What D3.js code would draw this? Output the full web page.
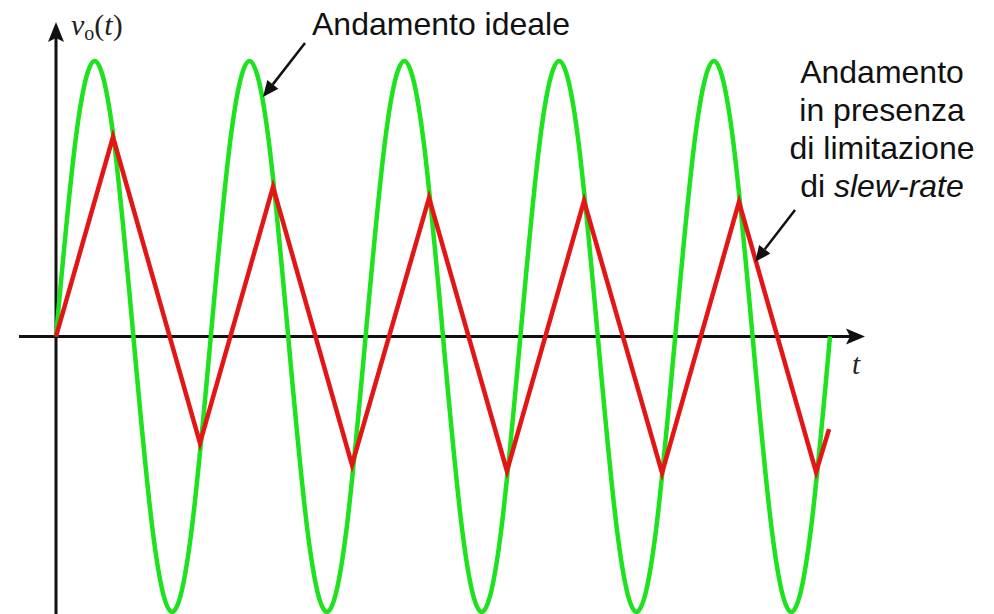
<!DOCTYPE html>
<html>
<head>
<meta charset="utf-8">
<script src="https://cdn.jsdelivr.net/npm/d3@7"></script>
<style>
  html, body { margin: 0; padding: 0; background: #fff; }
  svg { display: block; }
</style>
</head>
<body>
<svg id="chart" width="994" height="614"></svg>
<script>
// Ideal output (sine), sampled every 1/8 of a period; t in periods, v normalised
const idealT = [0, 0.125, 0.25, 0.375, 0.5, 0.625, 0.75, 0.875,
                1, 1.125, 1.25, 1.375, 1.5, 1.625, 1.75, 1.875,
                2, 2.125, 2.25, 2.375, 2.5, 2.625, 2.75, 2.875,
                3, 3.125, 3.25, 3.375, 3.5, 3.625, 3.75, 3.875,
                4, 4.125, 4.25, 4.375, 4.5, 4.625, 4.75, 4.875, 5];
const idealV = [0, 0.707, 1, 0.707, 0, -0.707, -1, -0.707,
                0, 0.707, 1, 0.707, 0, -0.707, -1, -0.707,
                0, 0.707, 1, 0.707, 0, -0.707, -1, -0.707,
                0, 0.707, 1, 0.707, 0, -0.707, -1, -0.707,
                0, 0.707, 1, 0.707, 0, -0.707, -1, -0.707, 0];

// Slew-rate limited output: vertices of the triangular wave
const slewT = [0, 0.368, 0.930, 1.402, 1.912, 2.410, 2.913, 3.411, 3.915, 4.412, 4.910, 4.994];
const slewV = [0, 0.724, -0.387, 0.543, -0.466, 0.503, -0.488, 0.492, -0.495, 0.488, -0.492, -0.336];

const labelIdeal = "Andamento ideale";
const labelSlew = ["Andamento", "in presenza", "di limitazione", ["di ", "slew-rate"]];

const svg = d3.select("#chart");
const W = 994, H = 614;

const x = d3.scaleLinear().domain([0, 5]).range([56, 830]);
const y = d3.scaleLinear().domain([-1, 1]).range([612, 61]);

const x0 = x(0), y0 = y(0);
const axisColor = "#111";

// Axes
svg.append("line").attr("x1", x0).attr("x2", x0).attr("y1", H).attr("y2", 38)
  .attr("stroke", axisColor).attr("stroke-width", 3);
svg.append("path")
  .attr("d", `M${x0},22 L${x0 + 8},42 L${x0},38 L${x0 - 8},42 Z`)
  .attr("fill", axisColor);

svg.append("line").attr("x1", 19).attr("x2", 850).attr("y1", y0).attr("y2", y0)
  .attr("stroke", axisColor).attr("stroke-width", 3);
svg.append("path")
  .attr("d", `M865,${y0} L846,${y0 - 8} L850,${y0} L846,${y0 + 8} Z`)
  .attr("fill", axisColor);

// Curves
svg.append("path")
  .datum(idealT.map((t, i) => [t, idealV[i]]))
  .attr("d", d3.line().x(d => x(d[0])).y(d => y(d[1])).curve(d3.curveNatural))
  .attr("fill", "none").attr("stroke", "#1ee21e").attr("stroke-width", 4.5)
  .attr("stroke-linejoin", "round");

svg.append("path")
  .datum(slewT.map((t, i) => [t, slewV[i]]))
  .attr("d", d3.line().x(d => x(d[0])).y(d => y(d[1])).curve(d3.curveLinear))
  .attr("fill", "none").attr("stroke", "#e31515").attr("stroke-width", 4.5)
  .attr("stroke-linejoin", "miter");

// Axis labels
const yl = svg.append("text").attr("x", 71).attr("y", 35)
  .attr("font-family", "'Liberation Serif', 'Times New Roman', serif")
  .attr("font-size", 30).attr("fill", "#222");
yl.append("tspan").attr("font-style", "italic").text("v");
yl.append("tspan").attr("font-size", 20).attr("dy", 5).text("o");
yl.append("tspan").attr("dy", -5).text("(");
yl.append("tspan").attr("font-style", "italic").text("t");
yl.append("tspan").text(")");

svg.append("text").attr("x", 852).attr("y", 374)
  .attr("font-family", "'Liberation Serif', 'Times New Roman', serif")
  .attr("font-style", "italic").attr("font-size", 29).attr("fill", "#222")
  .text("t");

// Annotations
const sans = "'Liberation Sans', Arial, sans-serif";
svg.append("text").attr("x", 312).attr("y", 35)
  .attr("font-family", sans).attr("font-size", 32).attr("fill", "#111")
  .text(labelIdeal);

const baselines = [83, 121, 159, 197];
labelSlew.forEach((l, i) => {
  const t = svg.append("text").attr("x", 882).attr("y", baselines[i])
    .attr("text-anchor", "middle")
    .attr("font-family", sans).attr("font-size", 32).attr("fill", "#111");
  if (Array.isArray(l)) {
    t.append("tspan").text(l[0]);
    t.append("tspan").attr("font-style", "italic").text(l[1]);
  } else {
    t.text(l);
  }
});

function arrow(x1, y1, x2, y2) {
  const ang = Math.atan2(y2 - y1, x2 - x1);
  const len = 16, half = 7;
  const bx = x2 - len * Math.cos(ang), by = y2 - len * Math.sin(ang);
  svg.append("line").attr("x1", x1).attr("y1", y1).attr("x2", bx).attr("y2", by)
    .attr("stroke", "#111").attr("stroke-width", 2.5);
  const px = -Math.sin(ang) * half, py = Math.cos(ang) * half;
  svg.append("path")
    .attr("d", `M${x2},${y2} L${bx + px},${by + py} L${bx - px},${by - py} Z`)
    .attr("fill", "#111");
}
arrow(305, 43, 263, 97);
arrow(795, 210, 755, 262);
</script>
</body>
</html>
